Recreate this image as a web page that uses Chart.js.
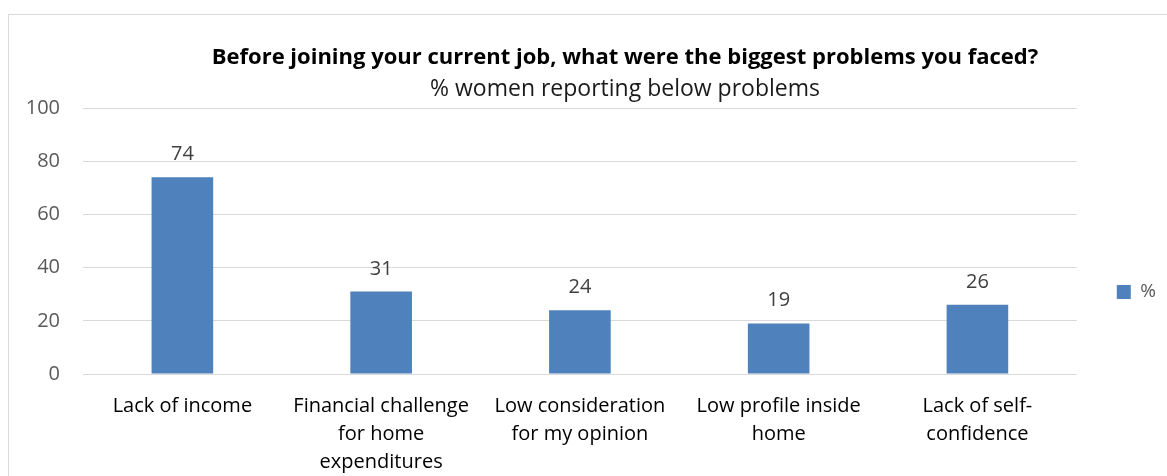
<!DOCTYPE html>
<html>
<head>
<meta charset="utf-8">
<script src="https://cdn.jsdelivr.net/npm/chart.js@4.4.1/dist/chart.umd.min.js"></script>
<style>
  html, body { margin:0; padding:0; background:#fff; overflow:hidden; width:1167px; height:476px; }
  #frame { position:absolute; left:8px; top:14px; width:1300px; height:520px; border:1px solid #d9d9d9; box-sizing:border-box; }
  #wrap { position:absolute; left:0; top:0; width:1200px; height:476px; }
  #titles { position:absolute; left:0; top:0; width:1250px; text-align:center; font-family:"Open Sans", sans-serif; color:#000; }
  #t1 { position:absolute; left:0; width:1250px; top:40px; font-weight:bold; font-size:22px; line-height:30px; }
  #t2 { position:absolute; left:0; width:1250px; top:72px; font-size:23px; line-height:30px; color:#1a1a1a; }
</style>
</head>
<body>
<div id="frame"></div>
<div id="wrap"><canvas id="chart" width="1200" height="476"></canvas></div>
<div id="titles">
  <div id="t1">Before joining your current job, what were the biggest problems you faced?</div>
  <div id="t2">% women reporting below problems</div>
</div>
<script>
// ---- DATA ----
const categories = [
  ["Lack of income"],
  ["Financial challenge", "for home", "expenditures"],
  ["Low consideration", "for my opinion"],
  ["Low profile inside", "home"],
  ["Lack of self-", "confidence"]
];
const seriesName = "%";
const values = [74, 31, 24, 19, 26];
const yTicks = [0, 20, 40, 60, 80, 100];

// ---- STYLE ----
const FONT = '"Open Sans", sans-serif';
const BAR_COLOR = '#4f81bd';

// etiquetas de valores encima de cada barra
const valueLabels = {
  id: 'valueLabels',
  afterDatasetsDraw(chart) {
    const ctx = chart.ctx;
    const meta = chart.getDatasetMeta(0);
    ctx.save();
    ctx.font = '20px ' + FONT;
    ctx.fillStyle = '#404040';
    ctx.textAlign = 'center';
    ctx.textBaseline = 'alphabetic';
    meta.data.forEach((bar, i) => {
      ctx.fillText(String(chart.data.datasets[0].data[i]), bar.x, bar.y - 17);
    });
    ctx.restore();
  }
};

const ctx = document.getElementById('chart').getContext('2d');
new Chart(ctx, {
  type: 'bar',
  data: {
    labels: categories,
    datasets: [{
      label: seriesName,
      data: values,
      backgroundColor: BAR_COLOR,
      borderWidth: 0,
      categoryPercentage: 1,
      barPercentage: 0.31
    }]
  },
  options: {
    responsive: false,
    animation: false,
    layout: { padding: { top: 108, left: 0, right: 34, bottom: 0 } },
    plugins: {
      title: { display: false },
      tooltip: { enabled: false },
      legend: {
        position: 'right',
        labels: {
          boxWidth: 14,
          boxHeight: 14,
          padding: 40,
          color: '#595959',
          font: { family: FONT, size: 19 }
        }
      }
    },
    scales: {
      x: {
        grid: { display: false, drawTicks: false },
        border: { display: false },
        ticks: {
          color: '#000',
          padding: 18,
          maxRotation: 0,
          autoSkip: false,
          font: { family: FONT, size: 20, lineHeight: 1.4 }
        },
        afterFit(scale) { scale.height = 102; }
      },
      y: {
        min: 0,
        max: 100,
        afterBuildTicks(scale) { scale.ticks = yTicks.map(v => ({ value: v })); },
        grid: { color: '#d9d9d9', lineWidth: 1, drawTicks: false },
        border: { display: false },
        ticks: {
          color: '#595959',
          padding: 23,
          font: { family: FONT, size: 20 }
        },
        afterFit(scale) { scale.width = 83; }
      }
    }
  },
  plugins: [valueLabels]
});
</script>
</body>
</html>
